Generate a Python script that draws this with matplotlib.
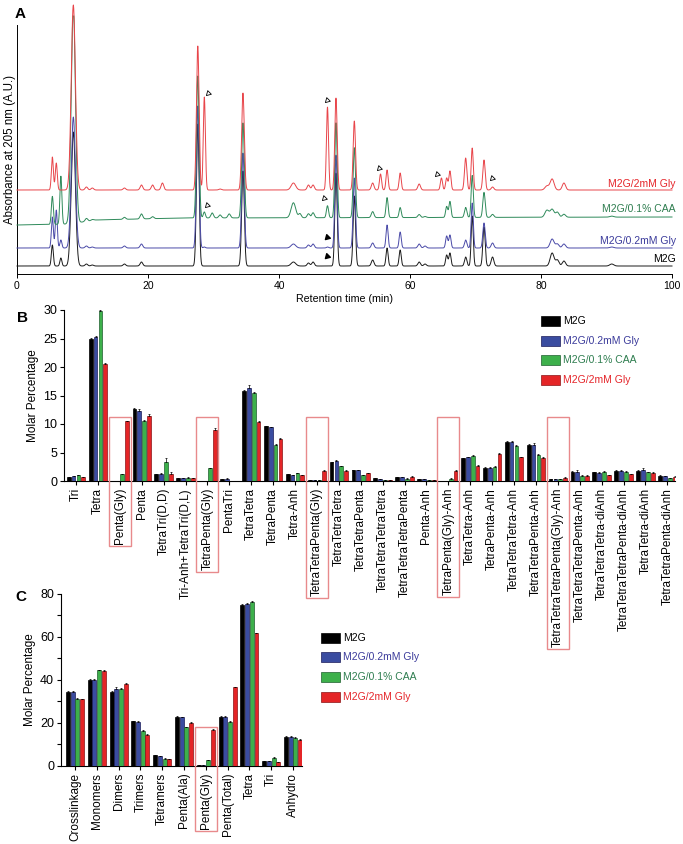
import numpy as np
import matplotlib
matplotlib.use("Agg")
import matplotlib.pyplot as plt
from matplotlib.patches import Rectangle

plt.rcParams["font.family"] = ["Liberation Sans", "DejaVu Sans"]

W, H = 683, 844

# ---------------- panel A: chromatogram peak tables ----------------
samples = ["M2G", "M2G/0.2mM Gly", "M2G/0.1% CAA", "M2G/2mM Gly"]
peak_rt = [5.4, 6.0, 6.7, 8.6, 10.6, 11.5, 16.4, 19.0, 20.7, 22.2,
           27.6, 28.6, 29.8, 31.0, 32.4, 34.5, 42.2, 43.2, 44.5, 45.2,
           47.4, 48.7, 51.5, 54.3, 55.5, 56.5, 58.5, 61.4, 62.3, 64.8,
           65.6, 66.1, 68.5, 69.5, 71.3, 72.6, 80.9, 81.7, 82.5, 83.5, 90.8]
peak_w = [0.15, 0.15, 0.15, 0.32, 0.2, 0.2, 0.2, 0.2, 0.2, 0.2,
          0.2, 0.16, 0.2, 0.2, 0.2, 0.2, 0.35, 0.2, 0.2, 0.2,
          0.16, 0.18, 0.18, 0.2, 0.16, 0.16, 0.16, 0.2, 0.2, 0.16,
          0.16, 0.16, 0.18, 0.16, 0.18, 0.2, 0.3, 0.3, 0.25, 0.25, 0.3]
h_m2g = [21, 0, 8, 134, 2, 1, 2, 4, 0, 0,
         142, 0, 0, 0, 0, 95, 4, 0, 3, 4,
         0, 93, 70, 6, 0, 18, 16, 4, 2, 0,
         11, 13, 9, 50, 39, 9, 0, 13, 6, 5, 2]
h_gly02 = [31, 38, 8, 131, 2, 1, 2, 4, 0, 0,
           142, 1, 0, 0, 0, 95, 4, 0, 3, 4,
           1, 93, 70, 5, 0, 23, 16, 4, 2, 0,
           12, 13, 8, 45, 25, 5, 0, 9, 4, 4, 1]
h_caa = [28, 0, 48, 215, 3, 1, 2, 5, 2, 0,
         142, 6, 5, 3, 4, 95, 15, 4, 4, 5,
         12, 95, 70, 6, 0, 20, 10, 3, 1, 0,
         11, 16, 10, 42, 25, 3, 7, 8, 5, 3, 1]
h_gly2 = [33, 27, 0, 185, 3, 2, 2, 5, 5, 7,
          144, 93, 0, 1, 0, 97, 7, 0, 5, 5,
          83, 92, 69, 7, 16, 20, 17, 6, 0, 12,
          12, 19, 32, 42, 30, 3, 4, 11, 0, 7, 0]
# baseline offsets (vertical stacking) and drift anchors
base_t = [0, 8, 12, 25, 100]
base_m2g = [8, 8, 8, 8, 8]
base_gly02 = [26, 26, 26, 26, 26]
base_caa = [49, 50, 54, 56, 57]
base_gly2 = [84, 84, 84, 84, 84]
caa_saturation = 258

# open / filled arrowheads (time, level)
open_marks_t = [29.2, 47.3, 55.3, 64.1, 72.5, 29.0, 46.9]
open_marks_y = [181, 174, 106, 100, 96, 69, 76]
filled_marks_t = [47.3, 47.3]
filled_marks_y = [37, 18]

# ---------------- panel B ----------------
muro_names = ["Tri", "Tetra", "Penta(Gly)", "Penta", "TetraTri(D,D)",
              "Tri-Anh+TetraTri(D,L)", "TetraPenta(Gly)", "PentaTri", "TetraTetra",
              "TetraPenta", "Tetra-Anh", "TetraTetraPenta(Gly)", "TetraTetraTetra",
              "TetraTetraPenta", "TetraTetraTetraTetra", "TetraTetraTetraPenta",
              "Penta-Anh", "TetraPenta(Gly)-Anh", "TetraTetra-Anh", "TetraPenta-Anh",
              "TetraTetraTetra-Anh", "TetraTetraPenta-Anh",
              "TetraTetraTetraPenta(Gly)-Anh", "TetraTetraTetraPenta-Anh",
              "TetraTetraTetra-diAnh", "TetraTetraTetraPenta-diAnh",
              "TetraTetra-diAnh", "TetraTetraPenta-diAnh"]
b_m2g = [0.7, 25.0, 0.05, 12.6, 1.2, 0.5, 0.05, 0.3, 15.8, 9.6, 1.2, 0.1, 3.3, 1.9,
         0.45, 0.65, 0.3, 0.05, 4.0, 2.35, 6.8, 6.4, 0.35, 1.65, 1.5, 1.8, 1.75, 0.95]
b_gly02 = [0.8, 25.3, 0.05, 12.3, 1.2, 0.5, 0.05, 0.4, 16.3, 9.4, 1.0, 0.1, 3.5, 1.9,
           0.35, 0.65, 0.3, 0.05, 4.15, 2.35, 6.9, 6.4, 0.35, 1.65, 1.35, 1.8, 2.0, 0.8]
b_caa = [1.0, 29.8, 1.2, 10.6, 3.3, 0.6, 2.2, 0.05, 15.5, 6.4, 1.35, 0.15, 2.6, 1.05,
         0.2, 0.4, 0.2, 0.4, 4.4, 2.5, 6.15, 4.55, 0.3, 0.9, 1.6, 1.6, 1.5, 0.55]
b_gly2 = [0.7, 20.5, 10.5, 11.4, 1.3, 0.45, 8.9, 0.05, 10.4, 7.4, 1.0, 1.7, 1.8, 1.35,
          0.2, 0.7, 0.2, 1.75, 2.7, 4.75, 4.15, 4.0, 0.6, 0.9, 1.0, 1.15, 1.45, 0.7]
e_m2g = [0.05, 0.1, 0.0, 0.2, 0.1, 0.05, 0.0, 0.05, 0.2, 0.1, 0.1, 0.0, 0.1, 0.05,
         0.05, 0.05, 0.05, 0.0, 0.1, 0.1, 0.2, 0.1, 0.05, 0.1, 0.1, 0.1, 0.1, 0.1]
e_gly02 = [0.1, 0.2, 0.0, 0.3, 0.2, 0.05, 0.0, 0.05, 0.5, 0.1, 0.1, 0.0, 0.1, 0.05,
           0.05, 0.05, 0.05, 0.0, 0.1, 0.1, 0.2, 0.2, 0.05, 0.2, 0.2, 0.1, 0.2, 0.1]
e_caa = [0.05, 0.2, 0.05, 0.1, 0.7, 0.1, 0.1, 0.0, 0.2, 0.1, 0.1, 0.05, 0.1, 0.05,
         0.05, 0.05, 0.05, 0.05, 0.1, 0.1, 0.1, 0.1, 0.05, 0.1, 0.1, 0.1, 0.1, 0.05]
e_gly2 = [0.05, 0.2, 0.1, 0.3, 0.2, 0.05, 0.4, 0.0, 0.2, 0.2, 0.1, 0.2, 0.1, 0.1,
          0.05, 0.1, 0.05, 0.2, 0.1, 0.2, 0.1, 0.2, 0.1, 0.1, 0.1, 0.1, 0.2, 0.1]
b_boxed = ["Penta(Gly)", "TetraPenta(Gly)", "TetraTetraPenta(Gly)",
           "TetraPenta(Gly)-Anh", "TetraTetraTetraPenta(Gly)-Anh"]

# ---------------- panel C ----------------
group_names = ["Crosslinkage", "Monomers", "Dimers", "Trimers", "Tetramers",
               "Penta(Ala)", "Penta(Gly)", "Penta(Total)", "Tetra", "Tri", "Anhydro"]
c_m2g = [34.5, 39.9, 34.5, 20.7, 4.8, 22.7, 0.1, 22.8, 74.9, 2.0, 13.5]
c_gly02 = [34.5, 39.9, 35.6, 20.5, 4.5, 22.5, 0.1, 22.7, 75.2, 2.2, 13.5]
c_caa = [31.2, 44.4, 35.7, 16.3, 3.3, 17.9, 2.6, 20.5, 76.3, 3.6, 13.0]
c_gly2 = [30.9, 44.3, 38.2, 14.3, 2.95, 20.0, 16.6, 36.5, 61.6, 1.7, 12.0]
ce_m2g = [0.3, 0.3, 0.4, 0.3, 0.2, 0.3, 0.0, 0.3, 0.4, 0.2, 0.3]
ce_gly02 = [0.3, 0.4, 1.0, 0.3, 0.2, 0.3, 0.0, 0.3, 0.5, 0.2, 0.3]
ce_caa = [0.3, 0.3, 0.4, 0.3, 0.2, 0.3, 0.1, 0.3, 0.4, 0.3, 0.3]
ce_gly2 = [0.3, 0.3, 0.4, 0.3, 0.2, 0.3, 0.3, 0.4, 0.4, 0.2, 0.3]
c_boxed = ["Penta(Gly)"]

LINE_COLORS = ["#1a1a1a", "#4a4aa8", "#2e8a5a", "#e8454a"]
BAR_COLORS = ["#000000", "#3a4ca0", "#3db04b", "#e42527"]
BAR_EDGES = ["#000000", "#1c1c5a", "#1f5e2f", "#8a1416"]
TEXT_COLORS = ["#000000", "#3b3b9b", "#2e7d4f", "#e5252a"]
BOX_COLOR = "#e88a8c"


def px_rect(left, top, right, bottom):
    return [left / W, 1 - bottom / H, (right - left) / W, (bottom - top) / H]


fig = plt.figure(figsize=(W / 100, H / 100), dpi=100)

# ---------------- A ----------------
ax = fig.add_axes(px_rect(17, 25, 672, 274))
t = np.linspace(0, 100, 5000)
heights = [h_m2g, h_gly02, h_caa, h_gly2]
bases = [base_m2g, base_gly02, base_caa, base_gly2]
rt = np.array(peak_rt)
sig = np.array(peak_w)
for i, (hs, bs) in enumerate(zip(heights, bases)):
    y = np.interp(t, base_t, bs).astype(float)
    for r, s, h in zip(rt, sig, hs):
        if h:
            y += h * np.exp(-0.5 * ((t - r) / s) ** 2)
    if samples[i] == "M2G/0.1% CAA":
        y = np.minimum(y, caa_saturation)
    ax.plot(t, y, color=LINE_COLORS[i], lw=0.7, clip_on=False, zorder=3 + i)
ax.scatter(open_marks_t, open_marks_y, marker=(3, 0, -105), s=18,
           facecolor="white", edgecolor="black", lw=0.6, zorder=10, clip_on=False)
ax.scatter(filled_marks_t, filled_marks_y, marker=(3, 0, -105), s=18,
           color="black", zorder=10, clip_on=False)
label_y = [259, 241, 209, 184]
for i, name in enumerate(samples):
    fig.text(676 / W, 1 - label_y[i] / H, name, color=TEXT_COLORS[i],
             ha="right", va="center", fontsize=7.5)
ax.set_xlim(0, 100)
ax.set_ylim(0, 249)
ax.set_xticks(range(0, 101, 20))
ax.set_yticks([])
ax.tick_params(axis="x", labelsize=7.5, length=3, width=0.7, pad=2)
for s in ["top", "right"]:
    ax.spines[s].set_visible(False)
for s in ["left", "bottom"]:
    ax.spines[s].set_linewidth(0.7)
ax.set_xlabel("Retention time (min)", fontsize=7.7, labelpad=2)
ax.set_ylabel("Absorbance at 205 nm (A.U.)", fontsize=8.3, labelpad=1)
fig.text(20 / W, 1 - 14 / H, "A", fontsize=11, fontweight="bold", ha="center", va="center")


def bar_panel(ax, names, series, errors, width=0.17, pitch=0.222):
    x = np.arange(len(names))
    for i, (vals, errs) in enumerate(zip(series, errors)):
        xs = x + (i - 1.5) * pitch
        ax.bar(xs, vals, width, color=BAR_COLORS[i], edgecolor=BAR_EDGES[i],
               lw=0.5, zorder=3)
        ax.errorbar(xs, vals, yerr=[np.zeros(len(errs)), errs], fmt="none",
                    ecolor="black", elinewidth=0.5, capsize=1.0, capthick=0.5, zorder=4)
    ax.set_xticks(x)
    ax.set_xticklabels(names, rotation=90, ha="center", va="top")
    for s in ["top", "right"]:
        ax.spines[s].set_visible(False)
    for s in ["left", "bottom"]:
        ax.spines[s].set_linewidth(0.8)
    ax.tick_params(length=3, width=0.8, pad=2)
    ax.patch.set_visible(False)


def legend_block(left, top_rows):
    for i, name in enumerate(samples):
        yc = top_rows[i]
        fig.patches.append(Rectangle((left / W, 1 - (yc + 5) / H), 19 / W, 10 / H,
                                     transform=fig.transFigure, facecolor=BAR_COLORS[i],
                                     edgecolor=BAR_EDGES[i], lw=0.5))
        fig.text((left + 22) / W, 1 - yc / H, name, color=TEXT_COLORS[i],
                 ha="left", va="center", fontsize=7.5)


# ---------------- B ----------------
axb = fig.add_axes(px_rect(64, 310, 675, 481))
bar_panel(axb, muro_names, [b_m2g, b_gly02, b_caa, b_gly2],
          [e_m2g, e_gly02, e_caa, e_gly2])
axb.set_xlim(-0.55, 27.35)
axb.set_ylim(0, 30)
axb.set_yticks(range(0, 31, 5))
axb.tick_params(axis="y", labelsize=9)
axb.tick_params(axis="x", labelsize=8.5)
axb.set_ylabel("Molar Percentage", fontsize=8.5, labelpad=3)
fig.text(22 / W, 1 - 318 / H, "B", fontsize=11, fontweight="bold", ha="center", va="center")
legend_block(541, [320.7, 340.7, 360, 379.5])

# ---------------- C ----------------
axc = fig.add_axes(px_rect(61, 594, 302, 765.7))
bar_panel(axc, group_names, [c_m2g, c_gly02, c_caa, c_gly2],
          [ce_m2g, ce_gly02, ce_caa, ce_gly2], width=0.18, pitch=0.215)
axc.set_xlim(-0.64, 10.41)
axc.set_ylim(0, 80)
axc.set_yticks(range(0, 81, 20))
axc.set_yticks(range(10, 80, 20), minor=True)
axc.tick_params(axis="y", which="minor", length=3, width=0.8)
axc.tick_params(axis="y", labelsize=9)
axc.tick_params(axis="x", labelsize=8.5)
axc.set_ylabel("Molar Percentage", fontsize=8.5, labelpad=3)
fig.text(21 / W, 1 - 597 / H, "C", fontsize=11, fontweight="bold", ha="center", va="center")
legend_block(321, [637.7, 657, 677, 696.5])

# ---------------- red boxes around Gly-containing species ----------------
fig.canvas.draw()
renderer = fig.canvas.get_renderer()


def box_labels(ax, names, boxed, top):
    labels = ax.get_xticklabels()
    inv = ax.transData.inverted()
    for name in boxed:
        k = names.index(name)
        bb = labels[k].get_window_extent(renderer)
        bottom = inv.transform((0, bb.y0 - 2))[1]
        ax.add_patch(Rectangle((k - 0.5, bottom), 1.0, top - bottom, fill=False,
                               edgecolor=BOX_COLOR, lw=1.0, clip_on=False, zorder=5))


box_labels(axb, muro_names, b_boxed, 11.28)
box_labels(axc, group_names, c_boxed, 18.0)

fig.savefig("out.png", dpi=100)
